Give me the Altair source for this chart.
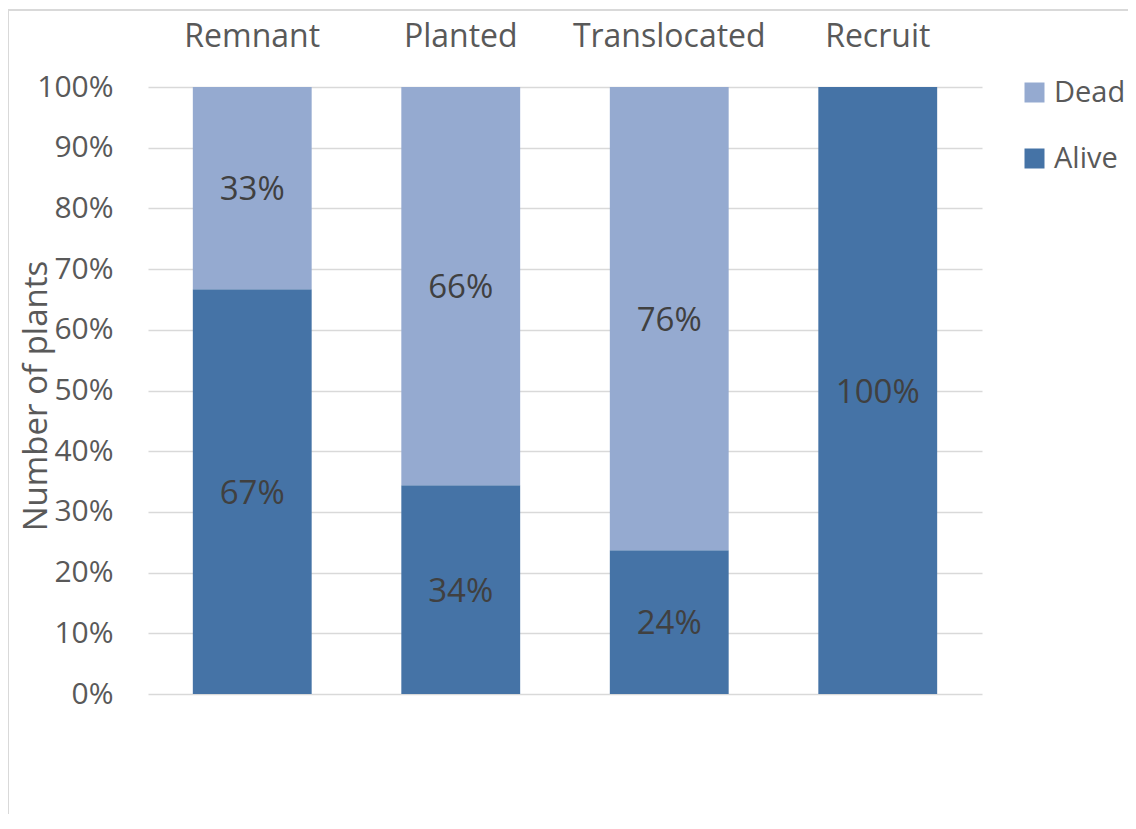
import altair as alt
import pandas as pd

categories = ["Remnant", "Planted", "Translocated", "Recruit"]
alive = [0.667, 0.344, 0.237, 1.0]
dead = [0.333, 0.656, 0.763, 0.0]
statuses = ["Dead", "Alive"]
status_colors = ["#95AAD0", "#4573A6"]
y_ticks = [0.0, 0.1, 0.2, 0.3, 0.4, 0.5, 0.6, 0.7, 0.8, 0.9, 1.0]

rows = []
for c, a, d in zip(categories, alive, dead):
    rows.append({"category": c, "status": "Alive", "value": a, "stack_order": 0})
    rows.append({"category": c, "status": "Dead", "value": d, "stack_order": 1})
df = pd.DataFrame(rows)

FONT = "Open Sans"
W, H = 834, 607

base = alt.Chart(df).transform_stack(
    stack="value",
    groupby=["category"],
    sort=[alt.SortField("stack_order", order="ascending")],
    as_=["y0", "y1"],
).transform_calculate(mid="(datum.y0 + datum.y1) / 2")

x_enc = alt.X(
    "category:N",
    sort=categories,
    scale=alt.Scale(paddingInner=0.43, paddingOuter=0.215),
    axis=alt.Axis(
        orient="top", title=None, domain=False, ticks=False, labelAngle=0,
        labelPadding=34, labelFontSize=32, labelColor="#595959", labelFont=FONT,
        labelLimit=400,
    ),
)

bars = base.mark_bar().encode(
    x=x_enc,
    y=alt.Y(
        "y0:Q",
        scale=alt.Scale(domain=[0, 1]),
        axis=alt.Axis(
            values=y_ticks, format=".0%", domain=False, ticks=False,
            labelPadding=35, labelFontSize=30, labelColor="#595959", labelFont=FONT,
            gridColor="#D9D9D9", gridWidth=1.5,
            title="Number of plants", titleX=-112, titleY=H / 2 + 5, titleAngle=270,
            titleAlign="center", titleBaseline="middle",
            titleFontSize=33, titleFontWeight="normal", titleColor="#595959", titleFont=FONT,
        ),
    ),
    y2="y1:Q",
    color=alt.Color(
        "status:N",
        scale=alt.Scale(domain=statuses, range=status_colors),
        legend=alt.Legend(
            title=None, orient="none", legendX=872, legendY=-9,
            symbolType="square", symbolSize=400, symbolStrokeWidth=0,
            labelFontSize=29, labelColor="#595959", labelFont=FONT,
            rowPadding=36, labelOffset=5,
        ),
    ),
)

labels = base.transform_filter("datum.value > 0").mark_text(
    fontSize=33, color="#404040", font=FONT, dy=2
).encode(
    x=alt.X("category:N", sort=categories),
    y=alt.Y("mid:Q"),
    text=alt.Text("value:Q", format=".0%"),
)

one = pd.DataFrame({"k": [0]})
top_border = alt.Chart(one).mark_rule(color="#D9D9D9", strokeWidth=2).encode(
    x=alt.value(-140), x2=alt.value(W + 146), y=alt.value(-77)
)
left_border = alt.Chart(one).mark_rule(color="#D9D9D9", strokeWidth=2).encode(
    x=alt.value(-140), y=alt.value(-77), y2=alt.value(H + 130)
)

chart = alt.layer(top_border, left_border, bars, labels).properties(
    width=W, height=H,
    autosize=alt.AutoSizeParams(type="none"),
    padding={"left": 140, "top": 79, "right": 146, "bottom": 120},
    background="white",
).configure_view(stroke=None)

chart.save("out.html", embed_options={"renderer": "svg", "actions": False})
